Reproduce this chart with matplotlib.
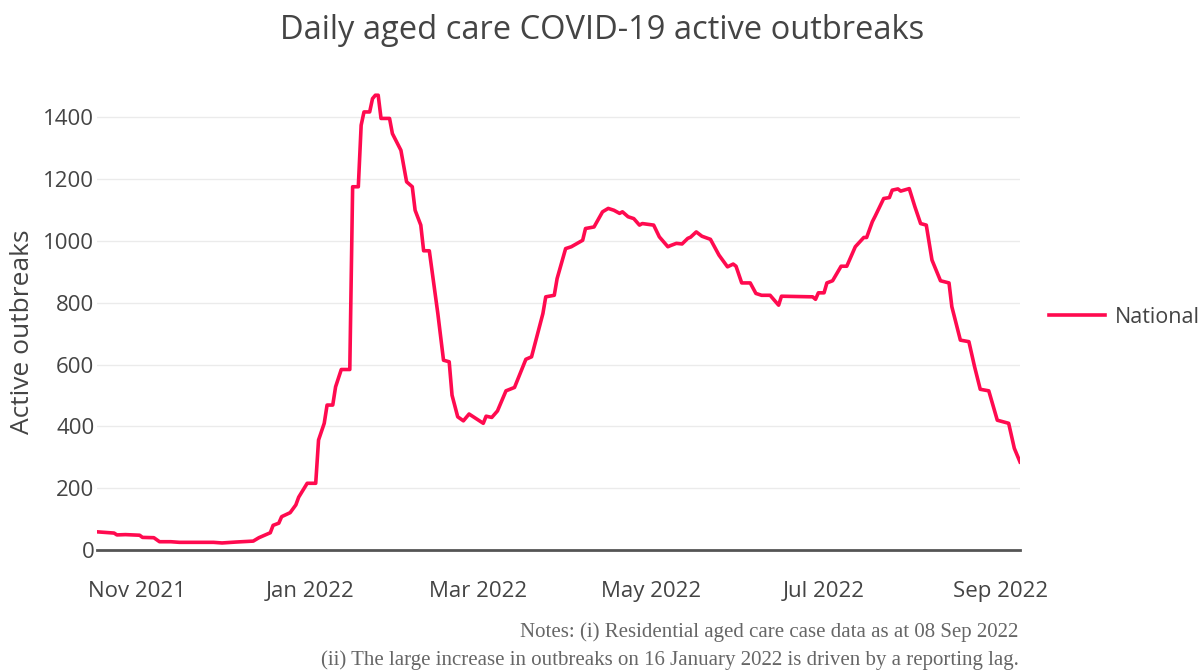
import matplotlib
matplotlib.use('Agg')
import matplotlib.pyplot as plt
import matplotlib.dates as mdates
import pandas as pd

# Active outbreaks as (days since start, value) vertices
start_date = '2021-10-18'
day_offsets = [0, 6, 7, 10, 15, 16, 20, 22, 26, 29, 41, 44, 49, 55, 57, 61, 62, 64,
               65, 68, 70, 71, 74, 77, 78, 80, 81, 83, 84, 86, 89, 90, 92, 93, 94, 96,
               97, 98, 99, 100, 103, 104, 107, 109, 111, 112, 114, 115, 117, 120, 122,
               124, 125, 127, 129, 131, 136, 137, 139, 141, 144, 147, 151, 153, 157,
               158, 161, 162, 165, 167, 171, 172, 175, 178, 180, 182, 184, 185, 187,
               189, 191, 192, 196, 198, 201, 202, 204, 206, 208, 209, 211, 213, 216,
               219, 222, 224, 225, 227, 230, 232, 234, 237, 240, 241, 252, 253, 254,
               256, 257, 259, 262, 264, 267, 270, 271, 273, 274, 277, 279, 280, 282,
               283, 286, 288, 290, 292, 294, 297, 300, 301, 304, 307, 309, 311, 314,
               317, 321, 323, 325]
outbreaks = [59, 55, 49, 50, 48, 41, 40, 27, 27, 25, 25, 23, 26, 29, 40, 56, 80, 87,
             108, 121, 146, 171, 216, 216, 356, 410, 469, 469, 528, 584, 584, 1175,
             1175, 1374, 1417, 1417, 1460, 1471, 1471, 1396, 1396, 1347, 1293, 1191,
             1175, 1099, 1051, 968, 968, 765, 614, 609, 501, 431, 418, 440, 410, 433,
             429, 450, 515, 526, 617, 625, 765, 819, 824, 878, 975, 981, 1002, 1040,
             1045, 1094, 1105, 1099, 1089, 1094, 1078, 1072, 1051, 1056, 1051, 1013,
             981, 985, 992, 990, 1008, 1012, 1029, 1015, 1005, 954, 916, 925, 918, 864,
             864, 830, 824, 824, 792, 821, 819, 811, 832, 832, 864, 871, 918, 918, 981,
             1011, 1011, 1062, 1080, 1137, 1140, 1164, 1168, 1161, 1169, 1110, 1056,
             1051, 938, 871, 864, 787, 679, 674, 593, 520, 515, 420, 410, 329, 285]

series_name = 'National'
title = 'Daily aged care COVID-19 active outbreaks'
notes = ['Notes: (i) Residential aged care case data as at 08 Sep 2022',
         '(ii) The large increase in outbreaks on 16 January 2022 is driven by a reporting lag.']

dates = pd.Timestamp(start_date) + pd.to_timedelta(day_offsets, unit='D')

plt.rcParams['font.family'] = ['Open Sans', 'DejaVu Sans']
text_col = '#444444'

fig = plt.figure(figsize=(12.01, 6.70), dpi=100)
ax = fig.add_axes([0.0808, 0.179, 0.7685, 0.713])

ax.plot(dates, outbreaks, color='#ff0a4f', lw=2.6, label=series_name,
        solid_joinstyle='round')

ax.set_xlim(dates[0], dates[-1])
ax.set_ylim(0, 1545)
ax.set_yticks(range(0, 1401, 200))
ax.xaxis.set_major_locator(mdates.MonthLocator(bymonth=[1, 3, 5, 7, 9, 11]))
ax.xaxis.set_major_formatter(mdates.DateFormatter('%b %Y'))

ax.grid(axis='y', color='#ebebeb', lw=1)
ax.set_axisbelow(True)
for s in ['top', 'right', 'left']:
    ax.spines[s].set_visible(False)
ax.spines['bottom'].set_color('#555555')
ax.spines['bottom'].set_linewidth(2)
ax.tick_params(axis='both', length=0, labelsize=16, colors=text_col)
ax.tick_params(axis='x', pad=22)
ax.tick_params(axis='y', pad=2)

ax.set_ylabel('Active outbreaks', fontsize=19, color=text_col)
ax.yaxis.set_label_coords(-0.067, 0.458)
fig.text(0.501, 0.955, title, ha='center', va='center', fontsize=23.5, color=text_col)

leg = ax.legend(loc='center left', bbox_to_anchor=(1.01, 0.487), frameon=False,
                fontsize=15.5, handlelength=2.6, handletextpad=0.5)
for t in leg.get_texts():
    t.set_color(text_col)

fig.text(0.848, 0.0567, notes[0], ha='right', va='center', fontsize=15,
         color='#666666', family='Liberation Serif')
fig.text(0.848, 0.0149, notes[1], ha='right', va='center', fontsize=15,
         color='#666666', family='Liberation Serif')

fig.savefig('out.png', dpi=100)
